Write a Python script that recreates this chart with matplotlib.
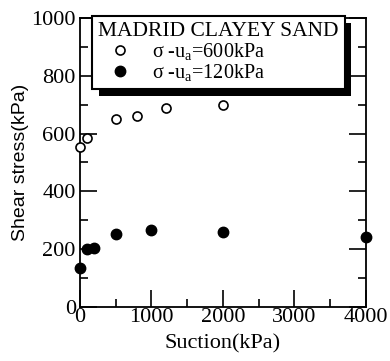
import matplotlib
matplotlib.use('Agg')
import matplotlib.pyplot as plt
import matplotlib.patheffects as pe
from matplotlib.ticker import MultipleLocator

plt.rcParams['font.family'] = ['Liberation Serif', 'DejaVu Serif']
plt.rcParams['mathtext.fontset'] = 'custom'
plt.rcParams['mathtext.rm'] = 'Liberation Serif'
plt.rcParams['mathtext.it'] = 'Liberation Serif:italic'

# --- data ---
suction_600 = [0, 100, 500, 800, 1200, 2000]
shear_600 = [553, 585, 650, 661, 689, 699]

suction_120 = [0, 100, 200, 500, 1000, 2000, 4000]
shear_120 = [135, 200, 204, 253, 267, 259, 243]

label_600 = r'σ -u$_{\mathrm{a}}$=600kPa'
label_120 = r'σ -u$_{\mathrm{a}}$=120kPa'
legend_title = 'MADRID CLAYEY SAND'

fig = plt.figure(figsize=(3.9, 3.61), dpi=100)
ax = fig.add_axes([0.205, 0.150, 0.733, 0.800])

ax.plot(suction_600, shear_600, 'o', mfc='white', mec='black', mew=1.2,
        ms=6.5, label=label_600, clip_on=False, zorder=5)
ax.plot(suction_120, shear_120, 'o', mfc='black', mec='black',
        ms=7.5, label=label_120, clip_on=False, zorder=5)

ax.set_xlim(0, 4000)
ax.set_ylim(0, 1000)
ax.xaxis.set_major_locator(MultipleLocator(1000))
ax.xaxis.set_minor_locator(MultipleLocator(500))
ax.yaxis.set_major_locator(MultipleLocator(200))
ax.yaxis.set_minor_locator(MultipleLocator(100))

ax.tick_params(which='both', direction='in', right=True, top=False, width=1.2)
ax.tick_params(which='major', length=12, labelsize=16)
ax.tick_params(axis='x', which='major', pad=1)
ax.tick_params(axis='y', which='major', pad=3)
ax.tick_params(which='minor', length=6)
for s in ax.spines.values():
    s.set_linewidth(1.3)

ax.set_xlabel('Suction(kPa)', fontsize=16, labelpad=5)
ax.set_ylabel('Shear stress(kPa)', fontsize=14, family=['Liberation Sans'],
              labelpad=2)

leg = ax.legend(title=legend_title, loc='upper left',
                bbox_to_anchor=(0.042, 1.006), borderaxespad=0,
                fontsize=14.5, title_fontsize=15.5, alignment='left',
                frameon=True, fancybox=False, edgecolor='black',
                handlelength=2.2, handletextpad=0.5, labelspacing=0.0,
                borderpad=0.3, numpoints=1)
leg.get_frame().set_linewidth(1.5)
leg.get_frame().set_alpha(1)
leg.get_frame().set_path_effects([
    pe.SimplePatchShadow(offset=(5, -5), shadow_rgbFace='black', alpha=1.0),
    pe.Normal()])
leg.set_zorder(10)

fig.savefig('out.png', dpi=100)
